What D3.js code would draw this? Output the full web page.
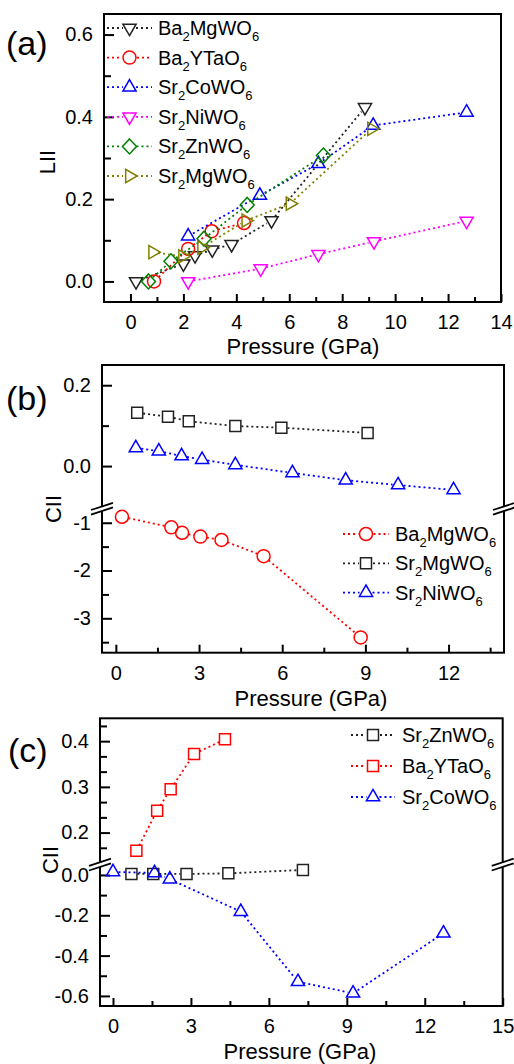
<!DOCTYPE html>
<html>
<head>
<meta charset="utf-8">
<script src="https://cdn.jsdelivr.net/npm/d3@7"></script>
<style>
  body { margin: 0; background: #fff; }
  svg { display: block; }
  text { font-family: Arial, "Liberation Sans", sans-serif; fill: #000; }
</style>
</head>
<body>
<svg id="chart" width="514" height="1064"></svg>
<script>
// ---------- data: panel (a), LII vs pressure ----------
const aXTicks = [0, 2, 4, 6, 8, 10, 12, 14];
const aXMinor = [1, 3, 5, 7, 9, 11, 13];
const aYTicks = [0, 0.2, 0.4, 0.6];
const aYMinor = [0.1, 0.3, 0.5];
const aBaMg = [[0.21, 0.0], [2.0, 0.043], [2.44, 0.063], [3.09, 0.077], [3.82, 0.09], [5.33, 0.148], [8.86, 0.423]];
const aBaY  = [[0.89, 0.0], [2.18, 0.079], [3.07, 0.122], [4.29, 0.142]];
const aSrCo = [[2.18, 0.11], [4.89, 0.209], [7.1, 0.286], [9.17, 0.379], [12.7, 0.411]];
const aSrNi = [[2.18, 0.0], [4.92, 0.031], [7.1, 0.066], [9.2, 0.097], [12.7, 0.147]];
const aSrZn = [[0.68, 0.0], [1.53, 0.049], [2.78, 0.104], [4.41, 0.186], [7.29, 0.306]];
const aSrMg = [[0.84, 0.071], [1.97, 0.061], [2.69, 0.082], [4.36, 0.148], [6.03, 0.189], [9.11, 0.371]];

// ---------- data: panel (b), CII (broken axis) ----------
const bXTicks = [0, 3, 6, 9, 12];
const bXMinor = [1.5, 4.5, 7.5, 10.5, 13.5];
const bYTicksHi = [0, 0.2];
const bYMinorHi = [0.1];
const bYTicksLo = [-3, -2, -1];
const bYMinorLo = [-3.5, -2.5, -1.5];
const bBaMg = [[0.22, -0.875], [2.0, -1.096], [2.39, -1.21], [3.05, -1.29], [3.81, -1.36], [5.33, -1.70], [8.83, -3.40]];
const bSrMg = [[0.77, 0.132], [1.88, 0.122], [2.63, 0.111], [4.31, 0.099], [5.97, 0.095], [9.08, 0.082]];
const bSrNi = [[0.72, 0.045], [1.55, 0.037], [2.37, 0.025], [3.11, 0.016], [4.31, 0.003], [6.37, -0.017], [8.29, -0.035], [10.18, -0.047], [12.18, -0.059]];

// ---------- data: panel (c), CII (broken axis) ----------
const cXTicks = [0, 3, 6, 9, 12, 15];
const cXMinor = [1.5, 4.5, 7.5, 10.5, 13.5];
const cYTicksHi = [0.2, 0.3, 0.4];
const cYMinorHi = [0.1667, 0.2333, 0.2667, 0.3333, 0.3667, 0.4333];
const cYTicksLo = [-0.6, -0.4, -0.2, 0.0];
const cYMinorLo = [-0.5, -0.3, -0.1];
const cSrZn = [[0.71, 0.005], [1.55, 0.005], [2.83, 0.005], [4.44, 0.008], [7.31, 0.025]];
const cBaY  = [[0.9, 0.16], [1.7, 0.248], [2.22, 0.295], [3.12, 0.372], [4.31, 0.404]];
const cSrCo = [[0.0, 0.015], [1.6, 0.01], [2.19, -0.021], [4.92, -0.182], [7.12, -0.53], [9.24, -0.587], [12.72, -0.289]];

const BLACK = '#222', RED = '#ff0000', BLUE = '#0000ff', MAGENTA = '#ff00ff', GREEN = '#008000', OLIVE = '#808000';

// hollow symbol outlines, centred on the data point
const SHAPES = {
  circle:  { d: 'M6.5,0A6.5,6.5 0 1,1 -6.5,0A6.5,6.5 0 1,1 6.5,0Z', r: 6.5 },
  up:      { d: 'M0,-7.6L6.6,3.8L-6.6,3.8Z', r: 5.5 },
  down:    { d: 'M0,7.6L6.6,-3.8L-6.6,-3.8Z', r: 5.5 },
  right:   { d: 'M7.6,0L-3.8,-6.6L-3.8,6.6Z', r: 5.5 },
  diamond: { d: 'M0,-7.5L7,0L0,7.5L-7,0Z', r: 6 },
  square:  { d: 'M-5.5,-5.5h11v11h-11Z', r: 6 }
};

const panels = [
  {
    box: { l: 104, r: 501, t: 14, b: 302 }, xDom: [-1, 14], xTicks: aXTicks, xMinor: aXMinor,
    segs: [{ dom: [-0.05, 0.65], rng: [302, 14], ticks: aYTicks, minor: aYMinor, fmt: d => d.toFixed(1) }],
    series: [
      { name: 'Ba2MgWO6', color: BLACK, shape: 'down', seg: 0, data: aBaMg },
      { name: 'Ba2YTaO6', color: RED, shape: 'circle', seg: 0, data: aBaY },
      { name: 'Sr2CoWO6', color: BLUE, shape: 'up', seg: 0, data: aSrCo },
      { name: 'Sr2NiWO6', color: MAGENTA, shape: 'down', seg: 0, data: aSrNi },
      { name: 'Sr2ZnWO6', color: GREEN, shape: 'diamond', seg: 0, data: aSrZn },
      { name: 'Sr2MgWO6', color: OLIVE, shape: 'right', seg: 0, data: aSrMg }
    ],
    legend: { x1: 107, x2: 152, tx: 158, y0: 28, dy: 29.6 },
    tag: '(a)', tagPos: [6, 55], yTitle: 'LII', yTitlePos: [55, 162], xTitleY: 353.5, xTitleX: 303
  },
  {
    box: { l: 102, r: 504, t: 365, b: 652.7 }, xDom: [-0.5, 14], xTicks: bXTicks, xMinor: bXMinor,
    segs: [
      { dom: [-0.1, 0.25], rng: [506.5, 365], ticks: bYTicksHi, minor: bYMinorHi, fmt: d => d.toFixed(1) },
      { dom: [-3.72, -0.75], rng: [652.7, 510.8], ticks: bYTicksLo, minor: bYMinorLo, fmt: d => String(d) }
    ],
    breakY: 508.7,
    series: [
      { name: 'Ba2MgWO6', color: RED, shape: 'circle', seg: 1, data: bBaMg },
      { name: 'Sr2MgWO6', color: BLACK, shape: 'square', seg: 0, data: bSrMg },
      { name: 'Sr2NiWO6', color: BLUE, shape: 'up', seg: 0, data: bSrNi }
    ],
    legend: { x1: 343, x2: 389, tx: 395, y0: 534, dy: 29.3 },
    tag: '(b)', tagPos: [6, 410], yTitle: 'CII', yTitlePos: [61, 509], xTitleY: 705.5, xTitleX: 311
  },
  {
    box: { l: 100, r: 502.7, t: 718.3, b: 1006 }, xDom: [-0.5, 15], xTicks: cXTicks, xMinor: cXMinor,
    segs: [
      { dom: [0.135, 0.45], rng: [862.3, 718.3], ticks: cYTicksHi, minor: cYMinorHi, fmt: d => d.toFixed(1) },
      { dom: [-0.65, 0.04], rng: [1006, 866.9], ticks: cYTicksLo, minor: cYMinorLo, fmt: d => d.toFixed(1) }
    ],
    breakY: 864.6,
    series: [
      { name: 'Sr2ZnWO6', color: BLACK, shape: 'square', seg: 1, data: cSrZn },
      { name: 'Ba2YTaO6', color: RED, shape: 'square', seg: 0, data: cBaY },
      { name: 'Sr2CoWO6', color: BLUE, shape: 'up', seg: 1, data: cSrCo }
    ],
    legend: { x1: 351, x2: 395, tx: 402, y0: 735, dy: 31 },
    tag: '(c)', tagPos: [8, 762], yTitle: 'CII', yTitlePos: [58, 860], xTitleY: 1059, xTitleX: 300
  }
];

const svg = d3.select('#chart');

// chemical formula with digits as subscripts
function formula(sel, name) {
  let back = 0;
  name.split(/(\d+)/).filter(s => s).forEach(part => {
    if (/^\d+$/.test(part)) {
      sel.append('tspan').attr('font-size', 13).attr('dy', 6).text(part);
      back = -6;
    } else {
      sel.append('tspan').attr('font-size', 20).attr('dy', back).text(part);
      back = 0;
    }
  });
}

function drawSeries(g, s, x, y) {
  const sh = SHAPES[s.shape];
  const pts = s.data.map(d => [x(d[0]), y(d[1])]);
  // dotted connectors, stopped short of each symbol
  for (let i = 1; i < pts.length; i++) {
    const [x0, y0] = pts[i - 1], [x1, y1] = pts[i];
    const len = Math.hypot(x1 - x0, y1 - y0);
    if (len <= 2 * sh.r + 1) continue;
    const ux = (x1 - x0) / len, uy = (y1 - y0) / len;
    g.append('line')
      .attr('x1', x0 + ux * sh.r).attr('y1', y0 + uy * sh.r)
      .attr('x2', x1 - ux * sh.r).attr('y2', y1 - uy * sh.r)
      .attr('stroke', s.color).attr('stroke-width', 1.8).attr('stroke-dasharray', '2,3');
  }
  g.selectAll(null).data(pts).join('path')
    .attr('transform', p => `translate(${p[0]},${p[1]})`)
    .attr('d', sh.d).attr('fill', 'none').attr('stroke', s.color).attr('stroke-width', 1.5);
}

function drawBreak(g, bx, by) {
  const dx = 11, sl = 3.6, gap = 4.6;
  g.append('path')
    .attr('d', `M${bx - dx},${by + sl} L${bx + dx},${by - sl} L${bx + dx},${by - sl + gap} L${bx - dx},${by + sl + gap}Z`)
    .attr('transform', `translate(0,${-gap / 2})`)
    .attr('fill', '#fff');
  [-gap / 2, gap / 2].forEach(o => {
    g.append('line')
      .attr('x1', bx - dx).attr('y1', by + sl + o).attr('x2', bx + dx).attr('y2', by - sl + o)
      .attr('stroke', '#000').attr('stroke-width', 1.8);
  });
}

panels.forEach(p => {
  const g = svg.append('g');
  const { l, r, t, b } = p.box;
  const x = d3.scaleLinear().domain(p.xDom).range([l, r]);
  const ys = p.segs.map(s => d3.scaleLinear().domain(s.dom).range(s.rng));

  // x axis (ticks pointing inward)
  g.append('g').attr('transform', `translate(0,${b})`)
    .call(d3.axisBottom(x).tickValues(p.xTicks).tickSize(-8).tickPadding(13).tickFormat(d => String(d)));
  g.append('g').attr('transform', `translate(0,${b})`)
    .call(d3.axisBottom(x).tickValues(p.xMinor).tickSize(-5).tickFormat(''));

  // y axis segments
  p.segs.forEach((s, i) => {
    g.append('g').attr('transform', `translate(${l},0)`)
      .call(d3.axisLeft(ys[i]).tickValues(s.ticks).tickSize(-10).tickPadding(11).tickFormat(s.fmt));
    g.append('g').attr('transform', `translate(${l},0)`)
      .call(d3.axisLeft(ys[i]).tickValues(s.minor).tickSize(-7).tickFormat(''));
  });

  g.selectAll('.domain').remove();
  g.selectAll('.tick line').attr('stroke', '#000').attr('stroke-width', 2);
  g.selectAll('.tick text').filter(function () { return this.textContent === ''; }).remove();
  g.selectAll('.tick text').attr('font-size', 20).attr('font-family', 'Arial, "Liberation Sans", sans-serif').attr('fill', '#000');

  // frame
  g.append('rect').attr('x', l).attr('y', t).attr('width', r - l).attr('height', b - t)
    .attr('fill', 'none').attr('stroke', '#000').attr('stroke-width', 2);

  if (p.breakY) {
    drawBreak(g, l, p.breakY);
    drawBreak(g, r, p.breakY);
  }

  p.series.forEach(s => drawSeries(g, s, x, ys[s.seg]));

  // legend
  const lg = p.legend;
  p.series.forEach((s, i) => {
    const yy = lg.y0 + i * lg.dy;
    const sh = SHAPES[s.shape];
    const xm = (lg.x1 + lg.x2) / 2;
    [[lg.x1, xm - sh.r - 1], [xm + sh.r + 1, lg.x2]].forEach(([a, c]) => {
      g.append('line').attr('x1', a).attr('x2', c).attr('y1', yy).attr('y2', yy)
        .attr('stroke', s.color).attr('stroke-width', 1.8).attr('stroke-dasharray', '2,3');
    });
    g.append('path').attr('transform', `translate(${xm},${yy})`).attr('d', sh.d)
      .attr('fill', 'none').attr('stroke', s.color).attr('stroke-width', 1.5);
    const tx = g.append('text').attr('x', lg.tx).attr('y', yy + 7).attr('font-size', 20);
    formula(tx, s.name);
  });

  // titles
  g.append('text').attr('x', p.tagPos[0]).attr('y', p.tagPos[1]).attr('font-size', 34).text(p.tag);
  g.append('text').attr('transform', `translate(${p.yTitlePos[0]},${p.yTitlePos[1]}) rotate(-90)`)
    .attr('text-anchor', 'middle').attr('font-size', 22).text(p.yTitle);
  g.append('text').attr('x', p.xTitleX).attr('y', p.xTitleY).attr('text-anchor', 'middle')
    .attr('font-size', 22).text('Pressure (GPa)');
});
</script>
</body>
</html>
